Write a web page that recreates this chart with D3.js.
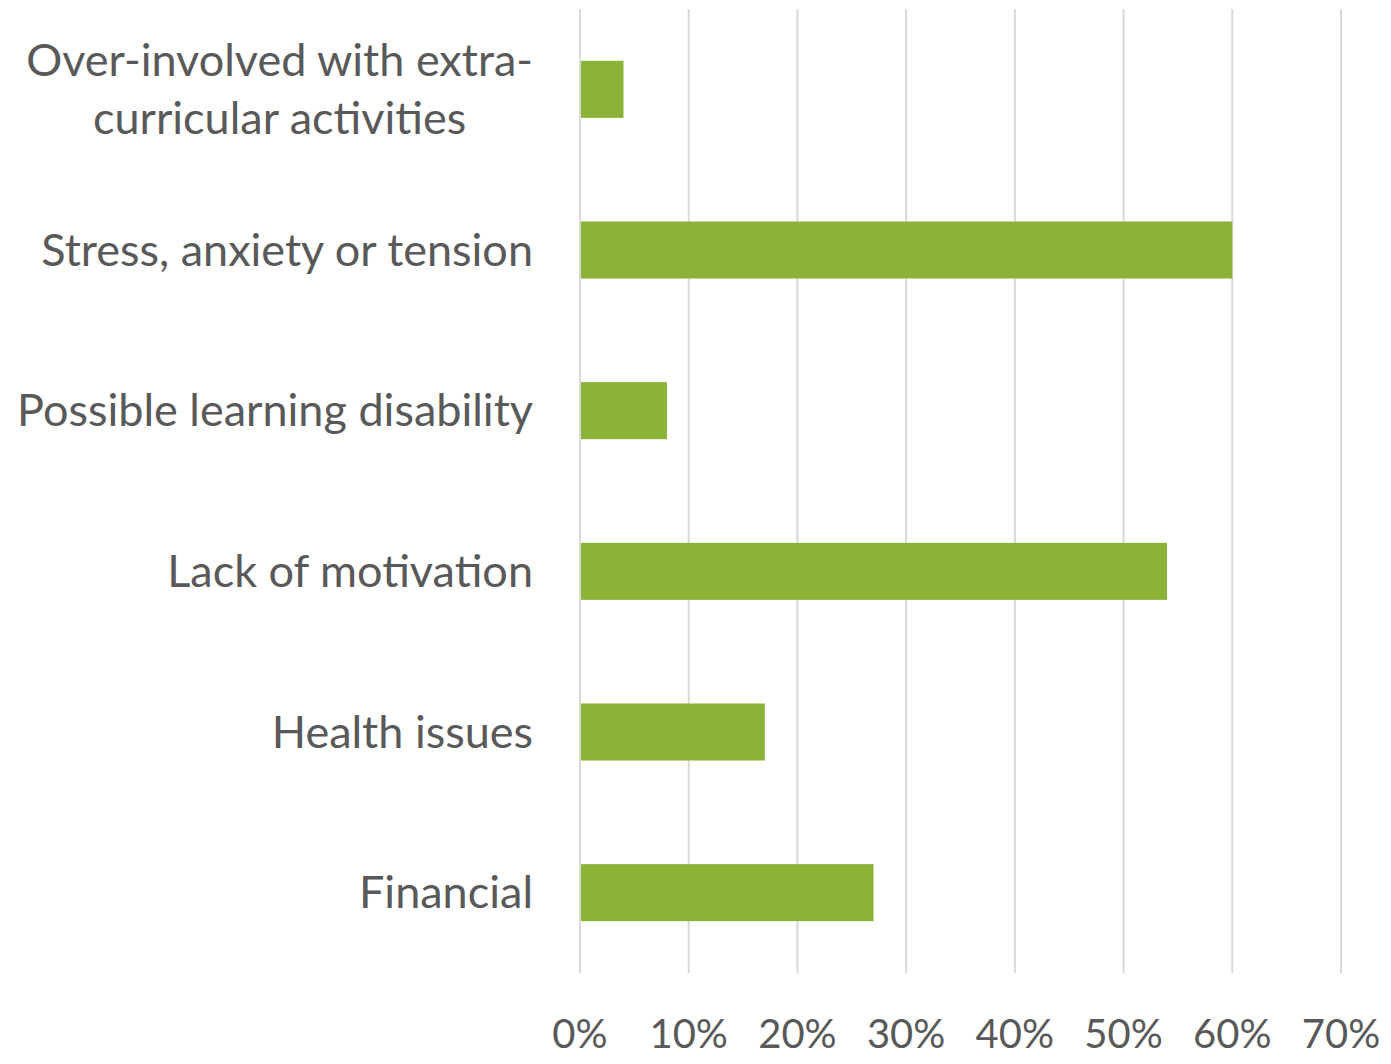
<!DOCTYPE html>
<html>
<head>
<meta charset="utf-8">
<script src="https://cdn.jsdelivr.net/npm/d3@7"></script>
<style>
  body { margin: 0; background: #fff; }
  text { font-family: Lato, "Open Sans", sans-serif; fill: #595959; }
</style>
</head>
<body>
<div id="chart"></div>
<script>
// categories, top to bottom
var categories = [
    ["Over-involved with extra-", "curricular activities"],
    ["Stress, anxiety or tension"],
    ["Possible learning disability"],
    ["Lack of motivation"],
    ["Health issues"],
    ["Financial"]
];
var values = [0.04, 0.60, 0.08, 0.54, 0.17, 0.27];
var ticks = [0, 0.1, 0.2, 0.3, 0.4, 0.5, 0.6, 0.7];

var W = 1391, H = 1064;
var margin = {top: 9, right: 50, bottom: 91, left: 580};

var svg = d3.select("#chart").append("svg")
    .attr("width", W)
    .attr("height", H);

var x = d3.scaleLinear()
    .domain([0, 0.7])
    .range([margin.left, 1341]);

var y = d3.scaleBand()
    .domain(d3.range(categories.length))
    .range([margin.top, H - margin.bottom])
    .paddingInner(0.645)
    .paddingOuter(0.3225);

// gridlines
svg.append("g").selectAll("line").data(ticks).enter()
    .append("line")
    .attr("x1", d => x(d)).attr("x2", d => x(d))
    .attr("y1", margin.top).attr("y2", H - margin.bottom)
    .attr("stroke", "#d9d9d9")
    .attr("stroke-width", 2);

// bars
svg.append("g").selectAll("rect").data(values).enter()
    .append("rect")
    .attr("x", x(0) + 1)
    .attr("y", (d, i) => y(i))
    .attr("width", d => x(d) - x(0) - 1)
    .attr("height", y.bandwidth())
    .attr("fill", "#8bb337");

// x tick labels
svg.append("g").selectAll("text").data(ticks).enter()
    .append("text")
    .attr("x", d => x(d))
    .attr("y", 1048)
    .attr("text-anchor", "middle")
    .style("font-size", "40px")
    .text(d => d3.format(".0%")(d));

// category labels
var labelRight = 533;
var lab = svg.append("g").selectAll("g").data(categories).enter()
    .append("g")
    .attr("transform", (d, i) => "translate(0," + (y(i) + y.bandwidth() / 2) + ")");

lab.each(function (lines) {
    var g = d3.select(this);
    var lh = 58;
    var t = g.selectAll("text").data(lines).enter()
        .append("text")
        .attr("y", (d, j) => (j - (lines.length - 1) / 2) * lh)
        .attr("dy", "0.35em")
        .style("font-size", "45px")
        .text(d => d);
    // multi-line labels are centred inside a right-aligned block
    var widest = d3.max(t.nodes(), n => n.getComputedTextLength());
    t.attr("x", labelRight - widest / 2).attr("text-anchor", "middle");
});
</script>
</body>
</html>
